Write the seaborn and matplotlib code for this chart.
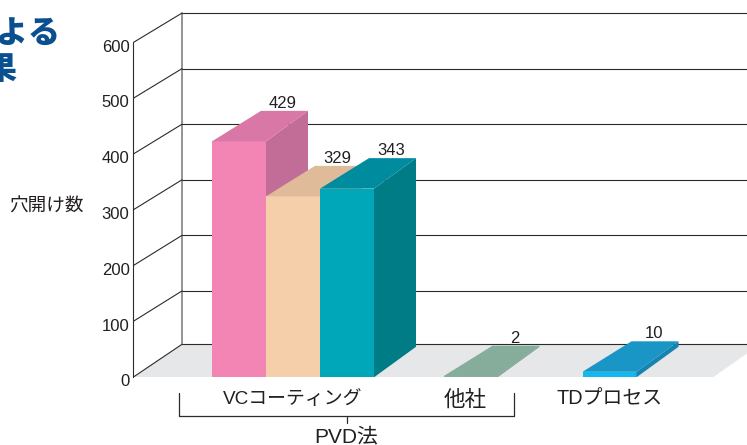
import matplotlib

matplotlib.use("Agg")
import matplotlib.pyplot as plt
import matplotlib.transforms as mtransforms
import pandas as pd
import seaborn as sns

BAR_NAMES = ["VC-1", "VC-2", "VC-3", "other", "TD"]
BAR_VALUES = [429, 329, 343, 2, 10]
CATEGORIES = ["VCコーティング", "他社", "TDプロセス"]
Y_TICKS = [0, 100, 200, 300, 400, 500, 600]

# x layout is in image pixels, the x axis runs 133..747
BAR_CENTERS = [239, 293, 347, 470.5, 609.5]
CATEGORY_CENTERS = [293, 465.5, 610]
CATEGORY_SIZES = [13.6, 15.5, 14.3]

FRONT_COLORS = ["#f285b4", "#f5cfa9", "#00a7b8", "#8bb09f", "#12b8ee"]
TOP_COLORS = ["#d978a6", "#dfbb99", "#008c9e", "#86ad9b", "#1a96c6"]
SIDE_COLORS = ["#c16d97", "#dfbb99", "#007c87", "#6f9484", "#1683b0"]

PX_PER_UNIT = 0.55
AXIS_STRETCH = 1.014  # wall ticks sit a little wider than the bars' own scale
BACK_STRETCH = 1.0104
WALL_DX = 49
WALL_DY = 30.8
FLOOR_DY = 33
BAR_DX_LEFT = 49
BAR_DX_RIGHT = 42
BAR_DY = 30.5

JP_FONT = ["Liberation Sans", "Noto Sans CJK JP"]
LINE_COLOR = "#2b2b2b"
TEXT_COLOR = "#231f20"
HEAD_COLOR = "#0a4f8f"


def px(n):
    return n / PX_PER_UNIT


sns.set_theme(style="white")
plt.rcParams["font.family"] = JP_FONT

W, H = 747, 445
fig = plt.figure(figsize=(W / 100, H / 100), dpi=100, facecolor="white")
ax = fig.add_axes([133 / W, (H - 377.3) / H, (W - 133) / W, 367.3 / H])

df = pd.DataFrame({"pos": BAR_CENTERS, "value": BAR_VALUES, "name": BAR_NAMES})
sns.barplot(
    data=df,
    x="pos",
    y="value",
    hue="name",
    palette=dict(zip(BAR_NAMES, FRONT_COLORS)),
    dodge=False,
    native_scale=True,
    width=1,
    legend=False,
    saturation=1,
    linewidth=0,
    ax=ax,
)
bars = sorted(ax.patches, key=lambda p: p.get_x())

ax.set_xlim(133, W)
ax.set_ylim(0, px(367.3))
ax.patch.set_alpha(0)

# floor and back wall
x_back = 133 + WALL_DX
ax.fill(
    [133, x_back, 760, 713],
    [0, px(FLOOR_DY), px(FLOOR_DY), 0],
    color="#e6e7e8",
    lw=0,
    zorder=0.5,
)
back_top = 600 * BACK_STRETCH + px(WALL_DY)
ax.plot([x_back, x_back], [px(FLOOR_DY), back_top], color="#777777", lw=1.1, zorder=1)
for tick in Y_TICKS:
    y_front = tick * AXIS_STRETCH
    y_back = px(FLOOR_DY) if tick == 0 else tick * BACK_STRETCH + px(WALL_DY)
    ax.plot([133, x_back], [y_front, y_back], color=LINE_COLOR, lw=0.8, zorder=1)
    ax.plot([x_back, W], [y_back, y_back], color=LINE_COLOR, lw=0.8, zorder=1)

# fake 3d: side and top for every bar, painted left to right
for i, bar in enumerate(bars):
    x0, w, h = bar.get_x(), bar.get_width(), bar.get_height()
    z = 3 + i
    bar.set_zorder(z)
    ax.fill(
        [x0 + w, x0 + w + BAR_DX_RIGHT, x0 + w + BAR_DX_RIGHT, x0 + w],
        [0, px(BAR_DY), h + px(BAR_DY), h],
        color=SIDE_COLORS[i],
        lw=0,
        zorder=z,
    )
    ax.fill(
        [x0, x0 + BAR_DX_LEFT, x0 + w + BAR_DX_RIGHT, x0 + w],
        [h, h + px(BAR_DY), h + px(BAR_DY), h],
        color=TOP_COLORS[i],
        lw=0,
        zorder=z,
    )
    ax.text(
        x0 + w / 2 + 44,
        h + px(BAR_DY),
        str(BAR_VALUES[i]),
        ha="center",
        va="bottom",
        fontsize=12,
        color=TEXT_COLOR,
        zorder=20,
    )

# axes
sns.despine(ax=ax, left=False, bottom=True)
ax.spines["left"].set_bounds(0, 600 * AXIS_STRETCH)
ax.spines["left"].set_color(LINE_COLOR)
ax.spines["left"].set_linewidth(0.8)

ax.set_yticks([t * AXIS_STRETCH for t in Y_TICKS], [str(t) for t in Y_TICKS])
ax.tick_params(axis="y", length=0, pad=2.5, labelsize=12, labelcolor=TEXT_COLOR)
for label in ax.get_yticklabels():
    label.set_transform(
        label.get_transform() + mtransforms.Affine2D().translate(0, -3)
    )

ax.set_xticks(CATEGORY_CENTERS, CATEGORIES)
ax.tick_params(axis="x", length=0, pad=9, labelcolor=TEXT_COLOR)
for label, size in zip(ax.get_xticklabels(), CATEGORY_SIZES):
    label.set_fontsize(size)
ax.set_xlabel("")

ax.set_ylabel("穴開け数", rotation=0, ha="center", va="center", fontsize=13.4, color=TEXT_COLOR)
ax.yaxis.set_label_coords(-0.141, 0.464)

# PVD bracket under the first two groups
ax.plot(
    [179.3, 179.3, 513.7, 513.7],
    [px(-16), px(-38.7), px(-38.7), px(-16)],
    color=LINE_COLOR,
    lw=0.9,
    clip_on=False,
)
ax.plot([346.7, 346.7], [px(-38.7), px(-46)], color=LINE_COLOR, lw=0.9, clip_on=False)
ax.text(346, px(-59.5), "PVD法", ha="center", va="center", fontsize=15, color=TEXT_COLOR, clip_on=False)

# tail of the page heading, cut off by the crop
fig.text(60 / W, 1 - 33 / H, "よる", ha="right", va="center", fontsize=23,
         fontweight=900, color=HEAD_COLOR, family="Noto Sans CJK JP")
fig.text(16 / W, 1 - 69 / H, "果", ha="right", va="center", fontsize=23,
         fontweight=900, color=HEAD_COLOR, family="Noto Sans CJK JP")

fig.savefig("out.png", dpi=100)
